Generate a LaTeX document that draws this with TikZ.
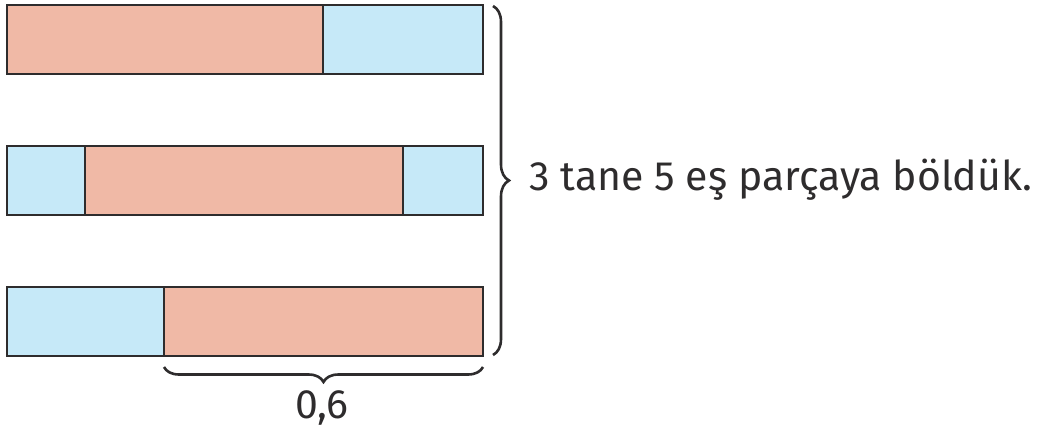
\documentclass[tikz,border=0pt]{standalone}
\usepackage{fontspec}
\setmainfont{Fira Sans}
\usetikzlibrary{decorations.pathreplacing}
\definecolor{pinkfill}{HTML}{F0B9A6}
\definecolor{bluefill}{HTML}{C6E9F8}
\definecolor{edge}{HTML}{2E2C2D}
\tikzset{
  seg/.style={draw=edge, line width=2pt, minimum height=69pt, inner sep=0pt, outer sep=0pt, anchor=north west},
  pinkseg/.style={seg, fill=pinkfill},
  blueseg/.style={seg, fill=bluefill},
  curly/.style={draw=edge, line width=2.6pt, decorate, decoration={brace, amplitude=#1}},
  label/.style={font=\fontsize{41}{46}\selectfont, text=edge, inner sep=0pt}
}
\begin{document}
\begin{tikzpicture}[x=1pt,y=-1pt]
\useasboundingbox (0,0) rectangle (1041,430);
% top bar: 4 pink units, 2 blue units
\node[pinkseg, minimum width=316pt] (a1) at (7,5) {};
\node[blueseg, minimum width=160pt] (a2) at (323,5) {};
% middle bar: 1 blue, 4 pink, 1 blue
\node[blueseg, minimum width=78pt] (b1) at (7,146) {};
\node[pinkseg, minimum width=318pt] (b2) at (85,146) {};
\node[blueseg, minimum width=80pt] (b3) at (403,146) {};
% bottom bar: 2 blue, 4 pink
\node[blueseg, minimum width=157pt] (c1) at (7,287) {};
\node[pinkseg, minimum width=319pt] (c2) at (164,287) {};
% braces
\coordinate (r1) at (493,6);
\coordinate (r2) at (493,355);
\draw[curly=16pt] (r1) -- (r2);
\coordinate (u1) at (483,367);
\coordinate (u2) at (164,367);
\draw[curly=15pt] (u1) -- (u2);
\node[label, anchor=west] (t1) at (529,180) {3 tane 5 eş parçaya böldük.};
\node[label] (t2) at (322,408) {0,6};
\end{tikzpicture}
\end{document}
